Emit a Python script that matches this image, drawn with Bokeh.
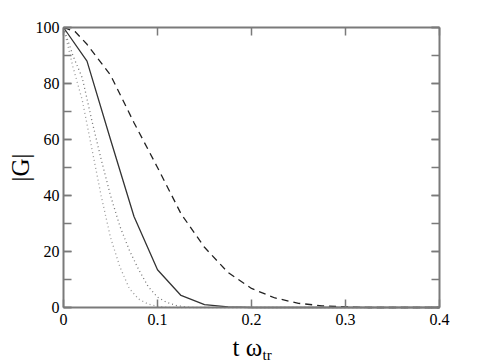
import math
from bokeh.plotting import figure
from bokeh.models import LinearAxis, SingleIntervalTicker, FixedTicker, Label, Range1d
from bokeh.embed import file_html
from bokeh.resources import INLINE

# ---- data ----
x_solid = [0.0, 0.025, 0.05, 0.075, 0.1, 0.125, 0.15, 0.175, 0.2, 0.25, 0.3, 0.35, 0.4]
y_solid = [100, 88, 60, 32.5, 13.5, 4.3, 1.0, 0.2, 0.0, 0.0, 0.0, 0.0, 0.0]

x_dashed = [0.0, 0.0125, 0.025, 0.05, 0.075, 0.1, 0.125, 0.15, 0.175, 0.2, 0.225, 0.25, 0.275, 0.3, 0.325, 0.35, 0.4]
y_dashed = [100, 98.5, 94, 83, 66, 50, 33.5, 21.5, 12.5, 6.8, 3.4, 1.5, 0.6, 0.2, 0.0, 0.0, 0.0]

x_dot_a = [0.0, 0.01, 0.02, 0.03, 0.04, 0.05, 0.06, 0.07, 0.08, 0.09, 0.1, 0.11, 0.12, 0.2, 0.3, 0.4]
y_dot_a = [100, 86, 74, 57, 40, 25, 14.5, 6.8, 3.0, 1.2, 0.4, 0.1, 0.0, 0.0, 0.0, 0.0]

x_dot_b = [0.0, 0.01, 0.02, 0.03, 0.04, 0.05, 0.06, 0.07, 0.08, 0.09, 0.1, 0.11, 0.12, 0.13, 0.14, 0.2, 0.3, 0.4]
y_dot_b = [100, 90, 82, 67, 53, 40, 29, 20.5, 13.5, 7.5, 3.7, 1.8, 0.7, 0.2, 0.0, 0.0, 0.0, 0.0]

x_ticks = [0, 0.1, 0.2, 0.3, 0.4]
x_tick_labels = {0: "0", 0.1: "0.1", 0.2: "0.2", 0.3: "0.3", 0.4: "0.4"}
x_min, x_max = 0.0, 0.4
y_min, y_max = 0, 100

FONT = "Liberation Serif"
AX = "#7a7a7a"

W, H = 485, 362
# data box occupies pixels 63..439 (x) and 27..307 (y) of the canvas
px_per_x = (439 - 63) / (x_max - x_min)
px_per_y = (307 - 27) / (y_max - y_min)
xr = Range1d(x_min - 63 / px_per_x, x_max + (W - 439) / px_per_x)
yr = Range1d(y_min - (H - 307) / px_per_y, y_max + 27 / px_per_y)

p = figure(width=W, height=H, output_backend="svg", toolbar_location=None,
           x_range=xr, y_range=yr, min_border=0,
           x_axis_type=None, y_axis_type=None)
p.grid.visible = False
p.outline_line_color = None
p.background_fill_color = "white"
p.border_fill_color = "white"

def style_axis(ax, labels=True):
    ax.axis_line_color = AX
    ax.axis_line_width = 2
    ax.major_tick_line_color = AX
    ax.minor_tick_line_color = AX
    ax.major_tick_line_width = 1.5
    ax.minor_tick_line_width = 1.5
    ax.major_tick_in = 8
    ax.major_tick_out = 0
    ax.minor_tick_in = 8
    ax.minor_tick_out = 0
    ax.major_label_text_font = FONT
    ax.major_label_text_font_size = "16px"
    ax.major_label_text_color = "black"
    if not labels:
        ax.major_label_text_color = None

xb = LinearAxis(ticker=FixedTicker(ticks=x_ticks), fixed_location=y_min, bounds=(x_min, x_max))
style_axis(xb)
xb.major_label_overrides = x_tick_labels
xb.major_label_standoff = 6
p.add_layout(xb, "below")

xt = LinearAxis(ticker=FixedTicker(ticks=x_ticks), fixed_location=y_max, bounds=(x_min, x_max))
style_axis(xt, labels=False)
p.add_layout(xt, "above")

yl = LinearAxis(ticker=SingleIntervalTicker(interval=20, num_minor_ticks=2),
                fixed_location=x_min, bounds=(y_min, y_max))
style_axis(yl)
yl.major_label_standoff = 4
p.add_layout(yl, "left")

yrax = LinearAxis(ticker=SingleIntervalTicker(interval=20, num_minor_ticks=2),
                  fixed_location=x_max, bounds=(y_min, y_max))
style_axis(yrax, labels=False)
p.add_layout(yrax, "right")

p.line(x_dot_a, y_dot_a, line_color="#9a9a9a", line_width=1.3, line_dash="1 3")
p.line(x_dot_b, y_dot_b, line_color="#777777", line_width=1.3, line_dash="1 3")
p.line(x_solid, y_solid, line_color="#333333", line_width=1.3)
p.line(x_dashed, y_dashed, line_color="#222222", line_width=1.3, line_dash="7 5")

# axis titles
p.add_layout(Label(x=0.1798, y=-14.3, text="t ω", text_font=FONT, text_font_size="25px",
                   text_align="left", text_baseline="alphabetic", text_color="black"))
p.add_layout(Label(x=0.2118, y=-17.0, text="tr", text_font=FONT, text_font_size="15px",
                   text_align="left", text_baseline="alphabetic", text_color="black"))
p.add_layout(Label(x=-0.0457, y=50, text="|G|", text_font=FONT, text_font_size="25px",
                   angle=math.pi / 2, text_align="center", text_baseline="middle",
                   text_color="black"))

open("out.html", "w").write(file_html(p, INLINE))
